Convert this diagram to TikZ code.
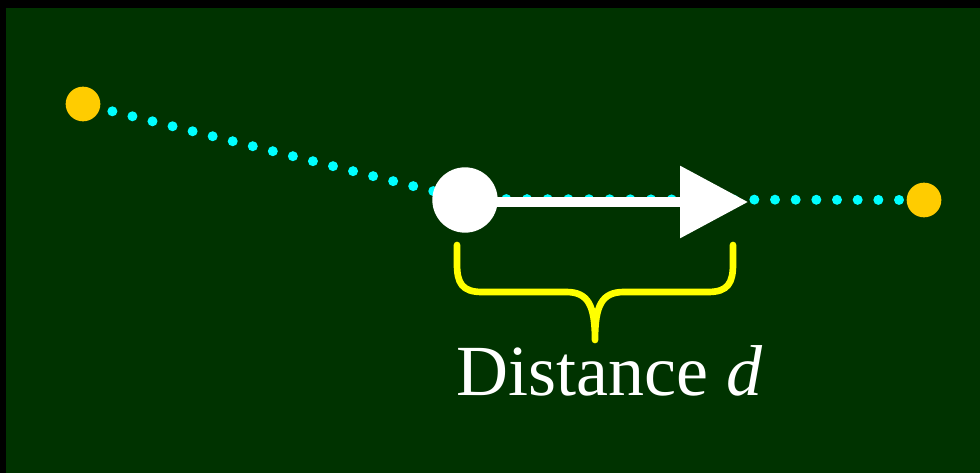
\documentclass[tikz,border=0pt]{standalone}
\usepackage{fontspec}
\setmainfont{Liberation Serif}
\usepackage{tikz}
\usetikzlibrary{arrows.meta}

\definecolor{boardgreen}{HTML}{003300}
\definecolor{planetorange}{HTML}{FFCC00}
\definecolor{pathcyan}{HTML}{00FFFF}
\definecolor{braceyellow}{HTML}{FFFF00}

\begin{document}
\begin{tikzpicture}[x=0.75pt,y=-0.75pt,
    planet/.style={circle,fill=planetorange,inner sep=0pt,minimum size=26pt},
    orbit/.style={pathcyan,line width=7.5pt,line cap=round,dash pattern=on 0pt off 15.5pt},
    mover/.style={circle,fill=white,inner sep=0pt,minimum size=49pt}]
    \useasboundingbox (0,0) rectangle (980,473);
    % Board
    \fill[black] (0,0) rectangle (980,473);
    \fill[boardgreen] (6,8) rectangle (980,473);
    % Points along the path
    \node[planet] (start) at (83,104) {};
    \node[planet] (goal) at (924,200) {};
    \coordinate (here) at (465,199);
    \coordinate (tail) at (465,202);
    \coordinate (tip) at (748,202);
    \draw[orbit,dash phase=6pt] (start) -- (here);
    \draw[orbit] (here) -- (goal);
    % Step arrow
    \draw[white,line width=7.5pt,-{Triangle[length=51pt,width=52.5pt]}] (tail) -- (tip);
    \node[mover] (ball) at (465,200) {};
    % Brace
    \draw[braceyellow,line width=5pt,line cap=round,line join=round]
        (457,245) -- (457,264) .. controls (457,283) and (462,292) .. (482,292)
        -- (566,292) .. controls (588,292) and (595,305) .. (595,340)
        .. controls (595,305) and (602,292) .. (624,292)
        -- (708,292) .. controls (728,292) and (733,283) .. (733,264) -- (733,245);
    % Label
    \node[white,anchor=base,inner sep=0pt,font=\fontsize{54}{60}\selectfont] (lbl) at (610,395) {Distance \textit{d}};
\end{tikzpicture}
\end{document}
